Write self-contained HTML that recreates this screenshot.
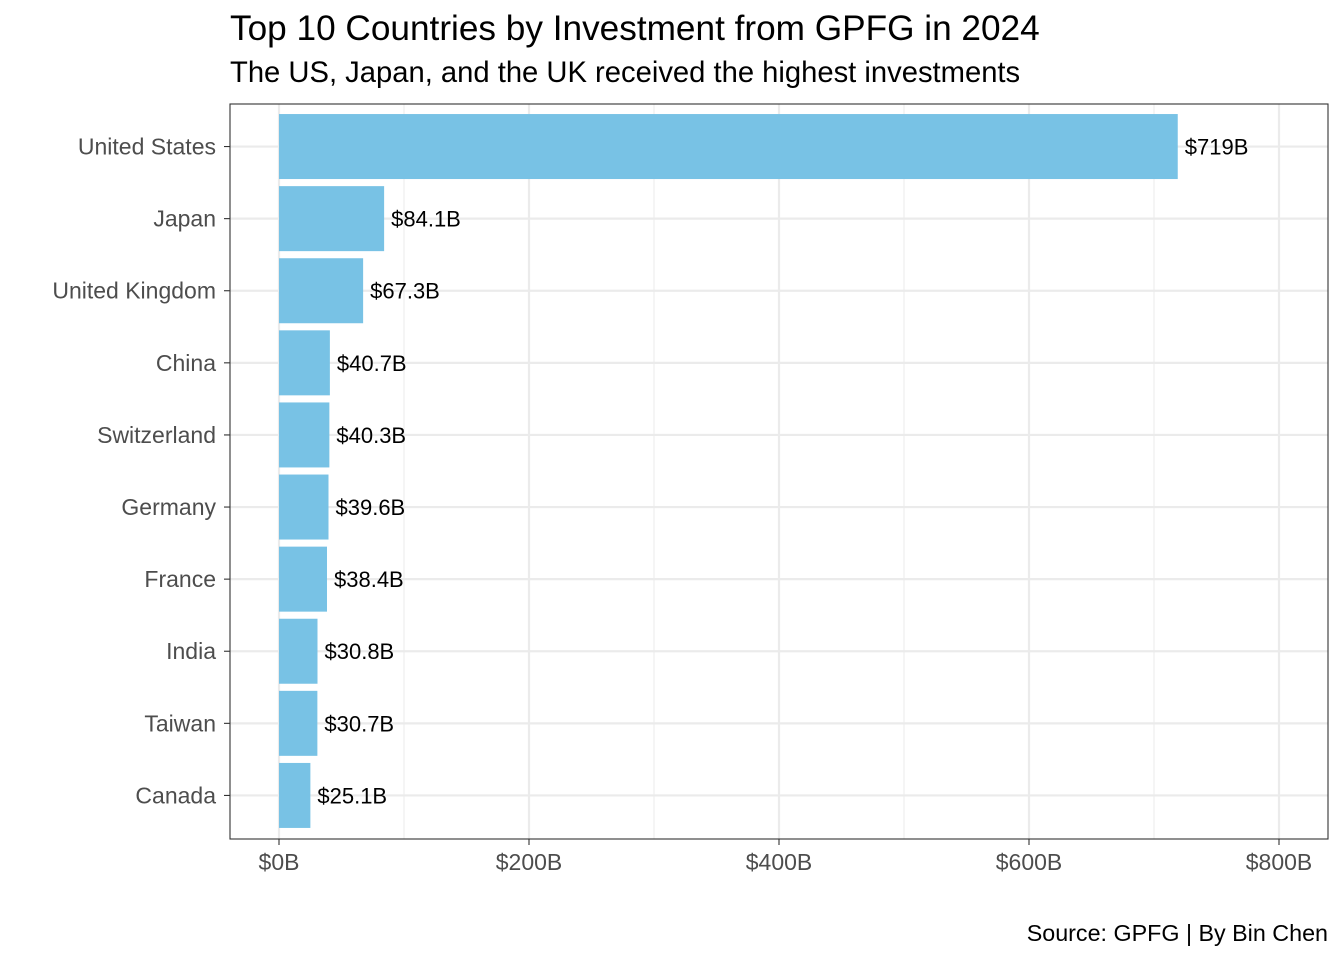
<!DOCTYPE html>
<html><head><meta charset="utf-8"><style>
body{margin:0;background:#fff;font-family:"Liberation Sans",Arial,sans-serif;}
</style></head><body>
<svg id="chart" width="1344" height="960" xmlns="http://www.w3.org/2000/svg">
<rect width="1344" height="960" fill="#fff"/>
<text x="230" y="40" font-size="35.2" fill="#000">Top 10 Countries by Investment from GPFG in 2024</text>
<text x="230" y="82" font-size="29.2" fill="#000">The US, Japan, and the UK received the highest investments</text>
<text x="1328" y="941" font-size="23.3" text-anchor="end" fill="#000">Source: GPFG | By Bin Chen</text>
<g id="grid"></g>
<g id="bars"></g>
<g id="axes"></g>
<rect x="230" y="104" width="1098" height="735" fill="none" stroke="#333" stroke-width="1.1"/>
</svg>
<script>
const categories=["United States","Japan","United Kingdom","China","Switzerland","Germany","France","India","Taiwan","Canada"];
const values=[719,84.1,67.3,40.7,40.3,39.6,38.4,30.8,30.7,25.1];
const valueLabels=["$719B","$84.1B","$67.3B","$40.7B","$40.3B","$39.6B","$38.4B","$30.8B","$30.7B","$25.1B"];
const xTicks=[0,200,400,600,800];
const xTickLabels=["$0B","$200B","$400B","$600B","$800B"];
const xMinor=[100,300,500,700];
const NS="http://www.w3.org/2000/svg";
const x0=279,pxPer=1.25,panelTop=104,band=72.1;
const xs=v=>x0+v*pxPer;
const ys=i=>panelTop+band*(i+0.59);
function mk(tag,attrs,parent){const e=document.createElementNS(NS,tag);for(const k in attrs)e.setAttribute(k,attrs[k]);parent.appendChild(e);return e;}
const grid=document.getElementById('grid'),bars=document.getElementById('bars'),axes=document.getElementById('axes');
xMinor.forEach(v=>{const l=mk('line',{x1:xs(v),x2:xs(v),y1:104,y2:839,stroke:'#ebebeb','stroke-width':1},grid);

});
xTicks.forEach((v,i)=>{const l=mk('line',{x1:xs(v),x2:xs(v),y1:104,y2:839,stroke:'#ebebeb','stroke-width':2.2},grid);


const t=mk('line',{x1:xs(v),x2:xs(v),y1:839,y2:845,stroke:'#333','stroke-width':1.1},axes);


const tx=mk('text',{x:xs(v),y:870,'font-size':23,'text-anchor':'middle',fill:'#4d4d4d'},axes);tx.textContent=xTickLabels[i];

});
categories.forEach((c,i)=>{const y=ys(i);
const g=mk('line',{x1:230,x2:1328,y1:y,y2:y,stroke:'#ebebeb','stroke-width':2.2},grid);


const r=mk('rect',{x:xs(0),y:y-32.5,width:xs(values[i])-xs(0),height:65,fill:'#78c2e5'},bars);


const vl=mk('text',{x:xs(values[i])+7,y:y+8,'font-size':22,fill:'#000'},bars);vl.textContent=valueLabels[i];


const t=mk('line',{x1:224,x2:230,y1:y,y2:y,stroke:'#333','stroke-width':1.1},axes);


const tl=mk('text',{x:216,y:y+8,'font-size':23,'text-anchor':'end',fill:'#4d4d4d'},axes);tl.textContent=c;

});
</script>
</body></html>
